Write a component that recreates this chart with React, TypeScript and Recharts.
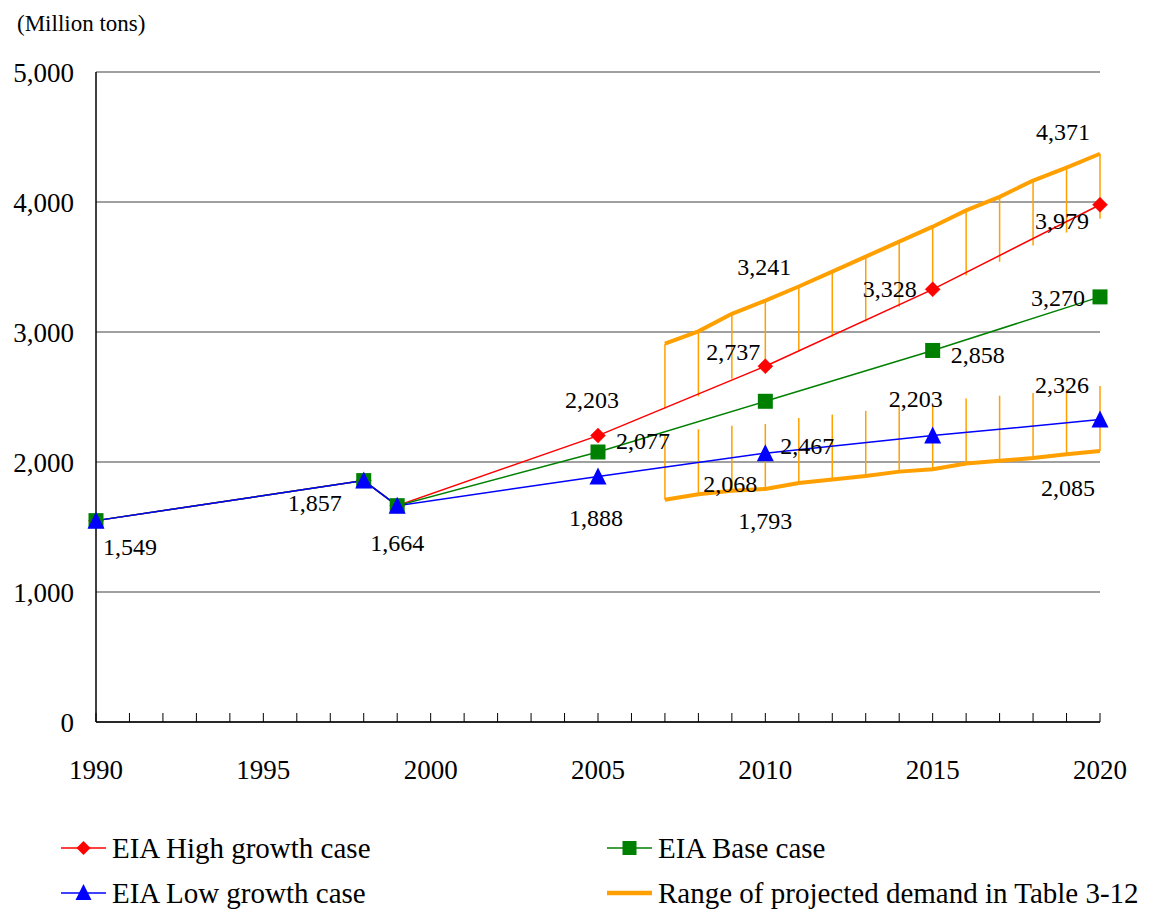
import React from 'react';
import { ComposedChart, Line, XAxis, YAxis, CartesianGrid, ErrorBar, LabelList } from 'recharts';

// ---- data ----
const years = [1990, 1998, 1999, 2005, 2007, 2008, 2009, 2010, 2011, 2012, 2013, 2014, 2015, 2016, 2017, 2018, 2019, 2020];
const highCase: (number | null)[] = [1549, 1857, 1664, 2203, null, null, null, 2737, null, null, null, null, 3328, null, null, null, null, 3979];
const baseCase: (number | null)[] = [1549, 1857, 1664, 2077, null, null, null, 2467, null, null, null, null, 2858, null, null, null, null, 3270];
const lowCase: (number | null)[] = [1549, 1857, 1664, 1888, null, null, null, 2068, null, null, null, null, 2203, null, null, null, null, 2326];
const rangeUpper: (number | null)[] = [null, null, null, null, 2910, 3005, 3140, 3241, 3350, 3465, 3580, 3695, 3810, 3935, 4040, 4165, 4265, 4371];
const rangeLower: (number | null)[] = [null, null, null, null, 1710, 1752, 1778, 1793, 1838, 1865, 1893, 1926, 1944, 1988, 2010, 2030, 2060, 2085];
const RANGE_BAR = 500; // length of the hi-lo bars hanging off each range line

const yTicks = [0, 1000, 2000, 3000, 4000, 5000];
const xTicks = [1990, 1991, 1992, 1993, 1994, 1995, 1996, 1997, 1998, 1999, 2000, 2001, 2002, 2003, 2004, 2005, 2006, 2007, 2008, 2009, 2010, 2011, 2012, 2013, 2014, 2015, 2016, 2017, 2018, 2019, 2020];

const labelledHigh = [2005, 2010, 2015, 2020];
const labelledBase = [2005, 2010, 2015, 2020];
const labelledLow = [1990, 1998, 1999, 2005, 2010, 2015, 2020];
const labelledUpper = [2010, 2020];
const labelledLower = [2010, 2020];

const rows = years.map((year, i) => ({
  year,
  high: highCase[i],
  base: baseCase[i],
  low: lowCase[i],
  upper: rangeUpper[i],
  lower: rangeLower[i],
  upperErr: rangeUpper[i] == null ? null : [RANGE_BAR, 0],
  lowerErr: rangeLower[i] == null ? null : [0, RANGE_BAR],
}));

// ---- styling ----
const FONT = '"Liberation Serif", "Times New Roman", serif';
const RED = '#ff0000';
const GREEN = '#008000';
const BLUE = '#0000ff';
const ORANGE = '#ffa000';

// label offsets (dx, dy) relative to the point, per series
const labelOffsets: Record<string, Record<number, [number, number]>> = {
  high: { 2005: [-6, -36], 2010: [-32, -14], 2015: [-43, 0], 2020: [-38, 16] },
  base: { 2005: [45, -11], 2010: [42, 45], 2015: [45, 5], 2020: [-42, 1] },
  low: { 1990: [34, 26], 1998: [-49, 22], 1999: [0, 37], 2005: [-2, 41], 2010: [-35, 31], 2015: [-17, -37], 2020: [-38, -35] },
  upper: { 2010: [-1, -34], 2020: [-37, -22] },
  lower: { 2010: [0, 32], 2020: [-32, 37] },
};
const labelled: Record<string, number[]> = {
  high: labelledHigh, base: labelledBase, low: labelledLow, upper: labelledUpper, lower: labelledLower,
};

const fmt = (v: number) => v.toLocaleString('en-US');

const makeLabel = (key: string) => (props: any) => {
  const { index, value } = props;
  if (value == null) return null;
  const row = rows[index];
  if (!row || !labelled[key].includes(row.year)) return null;
  const x = props.x ?? props.viewBox?.x;
  const y = props.y ?? props.viewBox?.y;
  const off = labelOffsets[key][row.year] || [0, 0];
  return (
    <text x={x + off[0]} y={y + off[1]} textAnchor="middle" dominantBaseline="central"
      fontFamily={FONT} fontSize={24} fill="#000">
      {fmt(value)}
    </text>
  );
};

const Diamond = (props: any) => {
  const { cx, cy, value } = props;
  if (value == null || cx == null || cy == null) return null;
  const r = 7.5;
  return <polygon points={`${cx},${cy - r} ${cx + r},${cy} ${cx},${cy + r} ${cx - r},${cy}`} fill={RED} stroke={RED} strokeWidth={0.5} />;
};
const Square = (props: any) => {
  const { cx, cy, value } = props;
  if (value == null || cx == null || cy == null) return null;
  const s = 7.5;
  return <rect x={cx - s} y={cy - s} width={2 * s} height={2 * s} fill={GREEN} />;
};
const Triangle = (props: any) => {
  const { cx, cy, value } = props;
  if (value == null || cx == null || cy == null) return null;
  const w = 8.5;
  return <polygon points={`${cx},${cy - 9} ${cx + w},${cy + 8} ${cx - w},${cy + 8}`} fill={BLUE} />;
};

const XTick = (props: any) => {
  const { x, y, payload } = props;
  const v = payload.value as number;
  return (
    <g>
      <line x1={x} x2={x} y1={y} y2={y - 9} stroke="#000" strokeWidth={1} />
      {v % 5 === 0 && (
        <text x={x} y={y + 48} textAnchor="middle" dominantBaseline="central" fontFamily={FONT} fontSize={27} fill="#000">
          {v}
        </text>
      )}
    </g>
  );
};

const LegendItem = ({ color, marker, text, left, top }: { color: string; marker: string; text: string; left: number; top: number }) => (
  <div style={{ position: 'absolute', left, top, height: 30, display: 'flex', alignItems: 'center' }}>
    <svg width={48} height={30} style={{ display: 'block' }}>
      <line x1={1} x2={46} y1={15} y2={15} stroke={color} strokeWidth={marker === 'none' ? 4.5 : 1.5} />
      {marker === 'diamond' && <polygon points="23.5,8 30.5,15 23.5,22 16.5,15" fill={color} />}
      {marker === 'square' && <rect x={16.5} y={8} width={14} height={14} fill={color} />}
      {marker === 'triangle' && <polygon points="23.5,6 31.5,22 15.5,22" fill={color} />}
    </svg>
    <span style={{ marginLeft: 4, fontFamily: FONT, fontSize: 29, color: '#000', whiteSpace: 'nowrap', lineHeight: '30px' }}>{text}</span>
  </div>
);

export default function App() {
  return (
    <div style={{ position: 'absolute', left: 0, top: 0, width: 1149, height: 909, background: '#fff', overflow: 'hidden' }}>
      <div style={{ position: 'absolute', left: 17, top: 11, fontFamily: FONT, fontSize: 23, color: '#000', whiteSpace: 'nowrap' }}>
        (Million tons)
      </div>
      <ComposedChart width={1149} height={909} data={rows} margin={{ top: 72, right: 49, bottom: 127, left: 0 }}>
        <CartesianGrid vertical={false} stroke="#808080" strokeWidth={1.5} />
        <XAxis dataKey="year" type="number" domain={[1990, 2020]} ticks={xTicks} interval={0}
          height={60} tickSize={0} tickMargin={0} tickLine={false}
          axisLine={{ stroke: '#000', strokeWidth: 1.5 }} tick={<XTick />} />
        <XAxis xAxisId="top" orientation="top" dataKey="year" type="number" domain={[1990, 2020]}
          height={0} tick={false} tickLine={false} axisLine={{ stroke: '#000', strokeWidth: 1.5 }} />
        <YAxis type="number" domain={[0, 5000]} ticks={yTicks} width={96} tickSize={0} tickMargin={22}
          tickLine={false} axisLine={{ stroke: '#000', strokeWidth: 1.5 }} tickFormatter={fmt}
          tick={{ fontFamily: FONT, fontSize: 27, fill: '#000' }} />
        <YAxis yAxisId="right" orientation="right" type="number" domain={[0, 5000]} width={0}
          tick={false} tickLine={false} axisLine={{ stroke: '#000', strokeWidth: 1.5 }} />

        <Line dataKey="upper" stroke={ORANGE} strokeWidth={4} dot={false} isAnimationActive={false} connectNulls={false}>
          <ErrorBar dataKey="upperErr" direction="y" width={0} stroke={ORANGE} strokeWidth={1.5} />
          <LabelList dataKey="upper" content={makeLabel('upper')} />
        </Line>
        <Line dataKey="lower" stroke={ORANGE} strokeWidth={4} dot={false} isAnimationActive={false} connectNulls={false}>
          <ErrorBar dataKey="lowerErr" direction="y" width={0} stroke={ORANGE} strokeWidth={1.5} />
          <LabelList dataKey="lower" content={makeLabel('lower')} />
        </Line>
        <Line dataKey="high" stroke={RED} strokeWidth={1.5} dot={<Diamond />} activeDot={false} connectNulls isAnimationActive={false}>
          <LabelList dataKey="high" content={makeLabel('high')} />
        </Line>
        <Line dataKey="base" stroke={GREEN} strokeWidth={1.5} dot={<Square />} activeDot={false} connectNulls isAnimationActive={false}>
          <LabelList dataKey="base" content={makeLabel('base')} />
        </Line>
        <Line dataKey="low" stroke={BLUE} strokeWidth={1.5} dot={<Triangle />} activeDot={false} connectNulls isAnimationActive={false}>
          <LabelList dataKey="low" content={makeLabel('low')} />
        </Line>
      </ComposedChart>
      <LegendItem color={RED} marker="diamond" text="EIA High growth case" left={60} top={833} />
      <LegendItem color={GREEN} marker="square" text="EIA Base case" left={606} top={833} />
      <LegendItem color={BLUE} marker="triangle" text="EIA Low growth case" left={60} top={878} />
      <LegendItem color={ORANGE} marker="none" text="Range of projected demand in Table 3-12" left={606} top={878} />
    </div>
  );
}
